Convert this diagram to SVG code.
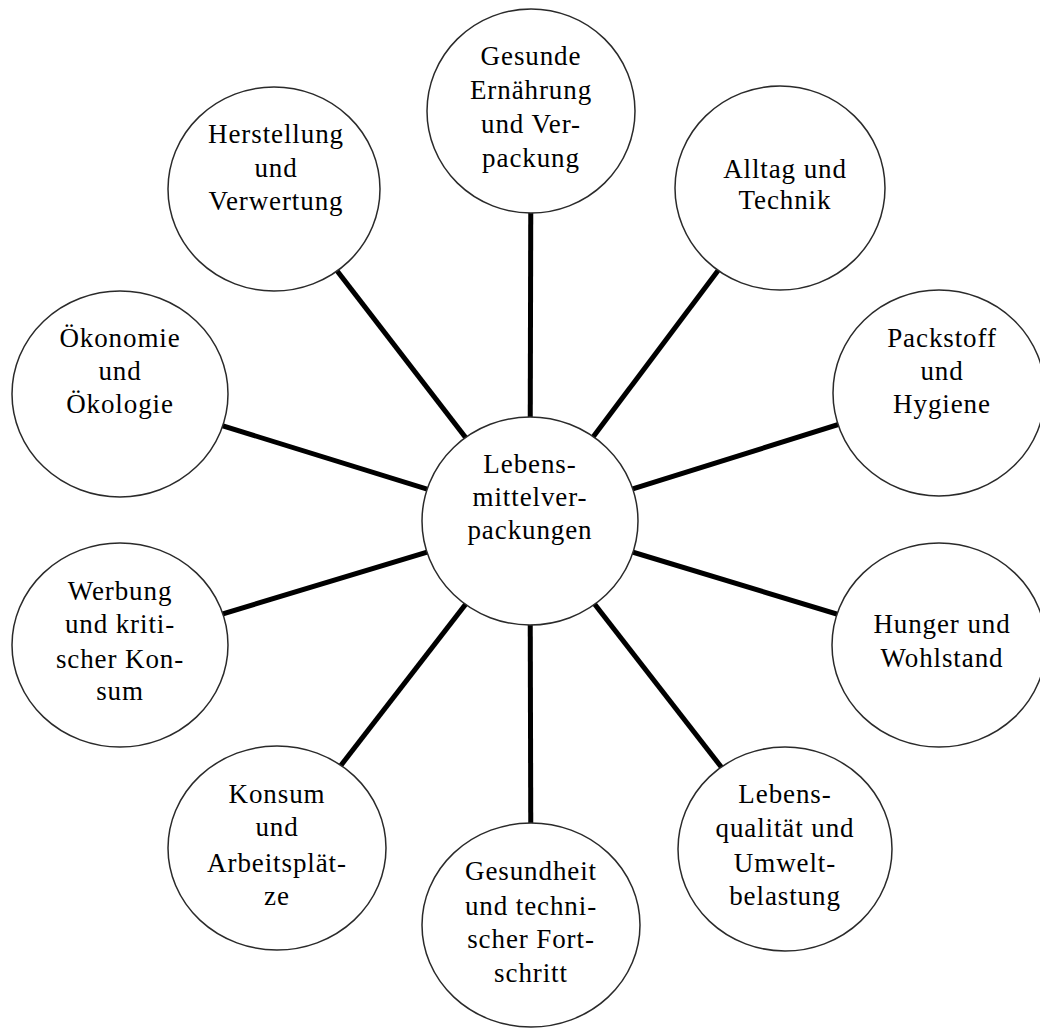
<svg xmlns="http://www.w3.org/2000/svg" width="1040" height="1028" viewBox="0 0 1040 1028">
  <style>
    .node { fill: #ffffff; stroke: #2a2a2a; stroke-width: 1.5; }
    .link { stroke: #000000; stroke-width: 5; stroke-linecap: butt; }
    .label { font-family: "Liberation Serif", "Times New Roman", serif; font-size: 27px; letter-spacing: 0.9px; fill: #000000; text-anchor: middle; }
  </style>
  <rect width="1040" height="1028" fill="#ffffff"/>

  <!-- spokes from the hub to every topic; drawn first so the filled ellipses hide the inner parts -->
  <g id="connectors">
    <line class="link" x1="530" y1="521" x2="531" y2="111"/>
    <line class="link" x1="530" y1="521" x2="274" y2="189"/>
    <line class="link" x1="530" y1="521" x2="780" y2="188"/>
    <line class="link" x1="530" y1="521" x2="120" y2="394"/>
    <line class="link" x1="530" y1="521" x2="939" y2="393"/>
    <line class="link" x1="530" y1="521" x2="120" y2="645"/>
    <line class="link" x1="530" y1="521" x2="939" y2="645"/>
    <line class="link" x1="530" y1="521" x2="277" y2="848"/>
    <line class="link" x1="530" y1="521" x2="531" y2="925"/>
    <line class="link" x1="530" y1="521" x2="785" y2="849"/>
  </g>

  <g id="hub">
    <ellipse class="node" cx="530" cy="521" rx="108" ry="104"/>
    <text class="label" x="530" y="473">Lebens-</text>
    <text class="label" x="530" y="506">mittelver-</text>
    <text class="label" x="530" y="539">packungen</text>
  </g>

  <g id="gesunde-ernaehrung">
    <ellipse class="node" cx="531" cy="111" rx="104" ry="102"/>
    <text class="label" x="531" y="65">Gesunde</text>
    <text class="label" x="531" y="99">Ernährung</text>
    <text class="label" x="531" y="133">und Ver-</text>
    <text class="label" x="531" y="167">packung</text>
  </g>

  <g id="herstellung">
    <ellipse class="node" cx="274" cy="189" rx="106" ry="102"/>
    <text class="label" x="276" y="143">Herstellung</text>
    <text class="label" x="276" y="177">und</text>
    <text class="label" x="276" y="210">Verwertung</text>
  </g>

  <g id="alltag">
    <ellipse class="node" cx="780" cy="188" rx="105" ry="102"/>
    <text class="label" x="785" y="178">Alltag und</text>
    <text class="label" x="785" y="209">Technik</text>
  </g>

  <g id="oekonomie">
    <ellipse class="node" cx="120" cy="394" rx="108" ry="103"/>
    <text class="label" x="120" y="347">Ökonomie</text>
    <text class="label" x="120" y="380">und</text>
    <text class="label" x="120" y="413">Ökologie</text>
  </g>

  <g id="packstoff">
    <ellipse class="node" cx="939" cy="393" rx="106" ry="103"/>
    <text class="label" x="942" y="347">Packstoff</text>
    <text class="label" x="942" y="380">und</text>
    <text class="label" x="942" y="413">Hygiene</text>
  </g>

  <g id="werbung">
    <ellipse class="node" cx="120" cy="645" rx="108" ry="102"/>
    <text class="label" x="120" y="600">Werbung</text>
    <text class="label" x="120" y="633">und kriti-</text>
    <text class="label" x="120" y="668">scher Kon-</text>
    <text class="label" x="120" y="700">sum</text>
  </g>

  <g id="hunger">
    <ellipse class="node" cx="939" cy="645" rx="107" ry="102"/>
    <text class="label" x="942" y="633">Hunger und</text>
    <text class="label" x="942" y="667">Wohlstand</text>
  </g>

  <g id="konsum">
    <ellipse class="node" cx="277" cy="848" rx="109" ry="102"/>
    <text class="label" x="277" y="803">Konsum</text>
    <text class="label" x="277" y="836">und</text>
    <text class="label" x="277" y="872">Arbeitsplät-</text>
    <text class="label" x="277" y="905">ze</text>
  </g>

  <g id="gesundheit">
    <ellipse class="node" cx="531" cy="925" rx="109" ry="102"/>
    <text class="label" x="531" y="880">Gesundheit</text>
    <text class="label" x="531" y="915">und techni-</text>
    <text class="label" x="531" y="948">scher Fort-</text>
    <text class="label" x="531" y="982">schritt</text>
  </g>

  <g id="lebensqualitaet">
    <ellipse class="node" cx="785" cy="849" rx="107" ry="102"/>
    <text class="label" x="785" y="803">Lebens-</text>
    <text class="label" x="785" y="837">qualität und</text>
    <text class="label" x="785" y="872">Umwelt-</text>
    <text class="label" x="785" y="905">belastung</text>
  </g>
</svg>
